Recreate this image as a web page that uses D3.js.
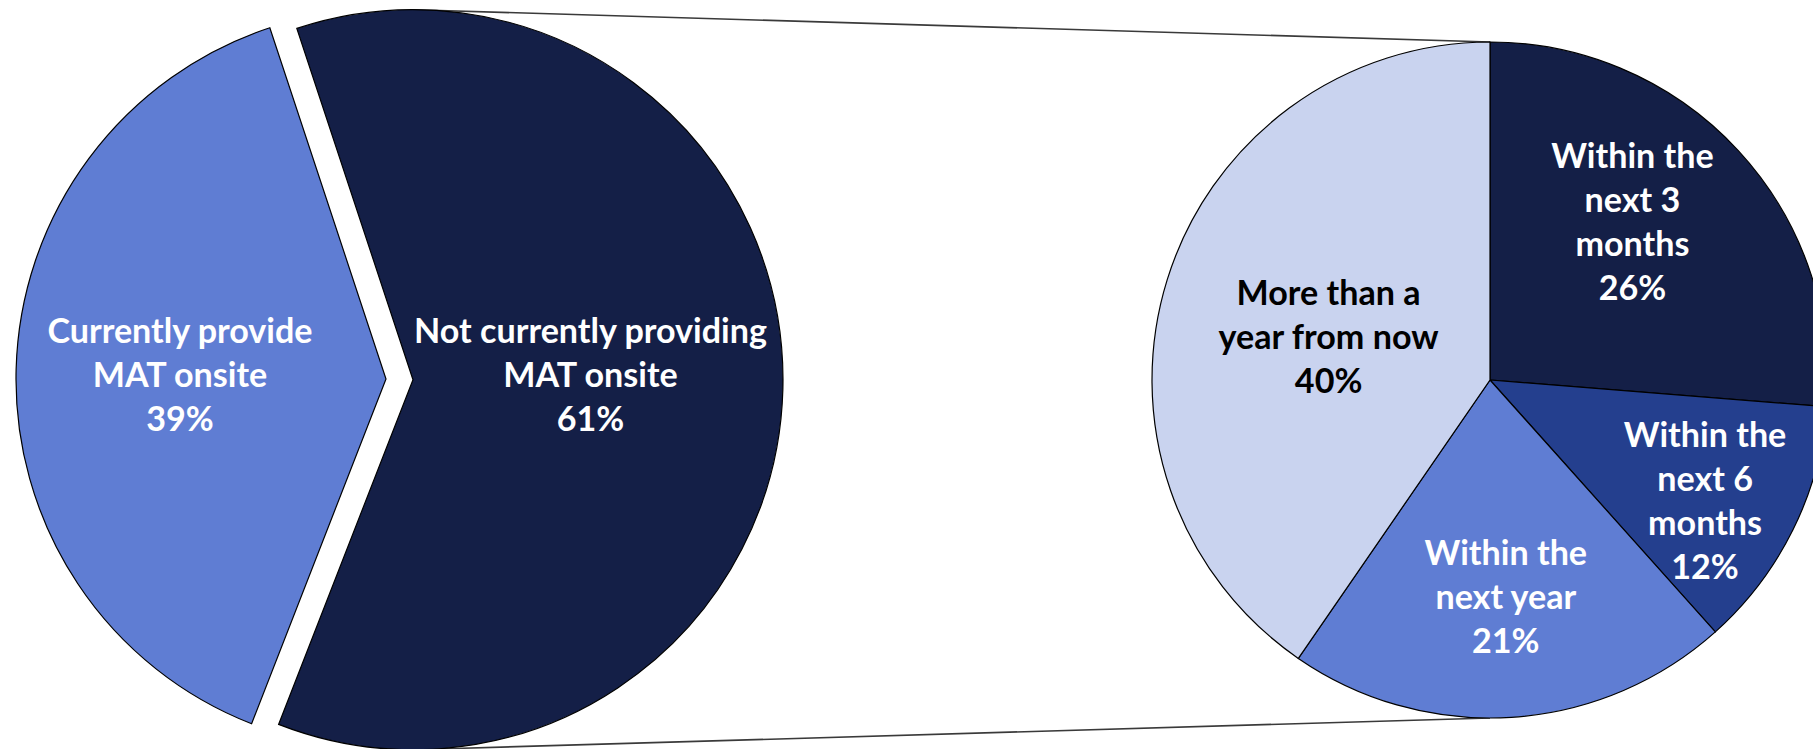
<!DOCTYPE html>
<html><head><meta charset="utf-8">
<script src="https://cdn.jsdelivr.net/npm/d3@7"></script>
<style>html,body{margin:0;padding:0;background:#fff;overflow:hidden}</style>
</head><body>
<svg id="chart" width="1813" height="749"></svg>
<script>
// ---- data ----
const mainCategories = ["Not currently providing MAT onsite", "Currently provide MAT onsite"];
const mainLabelLines = [["Not currently providing", "MAT onsite"], ["Currently provide", "MAT onsite"]];
const mainValues = [61, 39];
const mainColors = ["#141f47", "#5f7dd3"];
const mainTextColors = ["#ffffff", "#ffffff"];

const subCategories = ["Within the next 3 months", "Within the next 6 months", "Within the next year", "More than a year from now"];
const subLabelLines = [["Within the", "next 3", "months"], ["Within the", "next 6", "months"], ["Within the", "next year"], ["More than a", "year from now"]];
const subValues = [26, 12, 21, 40];
const subColors = ["#141f47", "#243f8e", "#5f7dd3", "#c9d3ef"];
const subTextColors = ["#ffffff", "#ffffff", "#ffffff", "#000000"];

// ---- layout ----
const W = 1813, H = 749;
const main = {cx: 386, cy: 379, r: 370, start: -18.3, explode: 27, labelFrac: [0.48, 0.557], labelDy: -6};
const sub = {cx: 1490, cy: 380, r: 338, start: 0, labelFrac: [0.63, 0.73, 0.645, 0.50],
  nudge: [[-14, -15], [-6, 10], [2, -2], [0, 6]]};
const lineH = 44;
const fontFamily = "Lato, 'Open Sans', sans-serif";

const svg = d3.select("#chart");
const deg = Math.PI / 180;

// font size fitted to the reference label width
const probe = svg.append("text").attr("font-family", fontFamily).attr("font-weight", 700)
  .attr("font-size", 100).text("Not currently providing");
const w100 = probe.node().getComputedTextLength();
probe.remove();
const fontSize = 100 * 353 / w100;

// ---- main pie ----
const mainPie = d3.pie().sort(null).value(d => d)
  .startAngle(main.start * deg).endAngle(main.start * deg + 2 * Math.PI);
const mainArcs = mainPie(mainValues);
const mainArc = d3.arc().innerRadius(0).outerRadius(main.r);

function offsetOf(a, dist) {
  const mid = (a.startAngle + a.endAngle) / 2;
  return [dist * Math.sin(mid), -dist * Math.cos(mid)];
}

const explodeOff = mainArcs.map((a, i) => i === 0 ? offsetOf(a, main.explode) : [0, 0]);

// connector lines (behind)
const dk = explodeOff[0];
const conn = svg.append("g").attr("stroke", "#3a3a3a").attr("stroke-width", 1.6);
conn.append("line")
  .attr("x1", main.cx + dk[0]).attr("y1", main.cy + dk[1] - main.r)
  .attr("x2", sub.cx).attr("y2", sub.cy - sub.r);
conn.append("line")
  .attr("x1", main.cx + dk[0]).attr("y1", main.cy + dk[1] + main.r)
  .attr("x2", sub.cx).attr("y2", sub.cy + sub.r);

const gMain = svg.append("g");
gMain.selectAll("path").data(mainArcs).join("path")
  .attr("transform", (d, i) => `translate(${main.cx + explodeOff[i][0]},${main.cy + explodeOff[i][1]})`)
  .attr("d", mainArc)
  .attr("fill", (d, i) => mainColors[i])
  .attr("stroke", "#000").attr("stroke-width", 1.2).attr("stroke-linejoin", "miter");

function drawLabel(g, x, y, lines, color) {
  const n = lines.length;
  const t = g.append("text").attr("font-family", fontFamily).attr("font-weight", 700)
    .attr("font-size", fontSize).attr("fill", color).attr("text-anchor", "middle");
  lines.forEach((ln, k) => {
    t.append("tspan").attr("x", x).attr("y", y + (k - (n - 1) / 2) * lineH)
      .attr("dominant-baseline", "central").text(ln);
  });
}

mainArcs.forEach((a, i) => {
  const o = offsetOf(a, main.r * main.labelFrac[i]);
  drawLabel(gMain, main.cx + explodeOff[i][0] + o[0], main.cy + main.labelDy,
    [...mainLabelLines[i], mainValues[i] + "%"], mainTextColors[i]);
});

// ---- sub pie ----
const subPie = d3.pie().sort(null).value(d => d)
  .startAngle(sub.start * deg).endAngle(sub.start * deg + 2 * Math.PI);
const subArcs = subPie(subValues);
const subArc = d3.arc().innerRadius(0).outerRadius(sub.r);
const gSub = svg.append("g");
gSub.selectAll("path").data(subArcs).join("path")
  .attr("transform", `translate(${sub.cx},${sub.cy})`)
  .attr("d", subArc)
  .attr("fill", (d, i) => subColors[i])
  .attr("stroke", "#000").attr("stroke-width", 1.2);

subArcs.forEach((a, i) => {
  const o = offsetOf(a, sub.r * sub.labelFrac[i]);
  drawLabel(gSub, sub.cx + o[0] + sub.nudge[i][0], sub.cy + o[1] + sub.nudge[i][1],
    [...subLabelLines[i], subValues[i] + "%"], subTextColors[i]);
});
</script>
</body></html>
